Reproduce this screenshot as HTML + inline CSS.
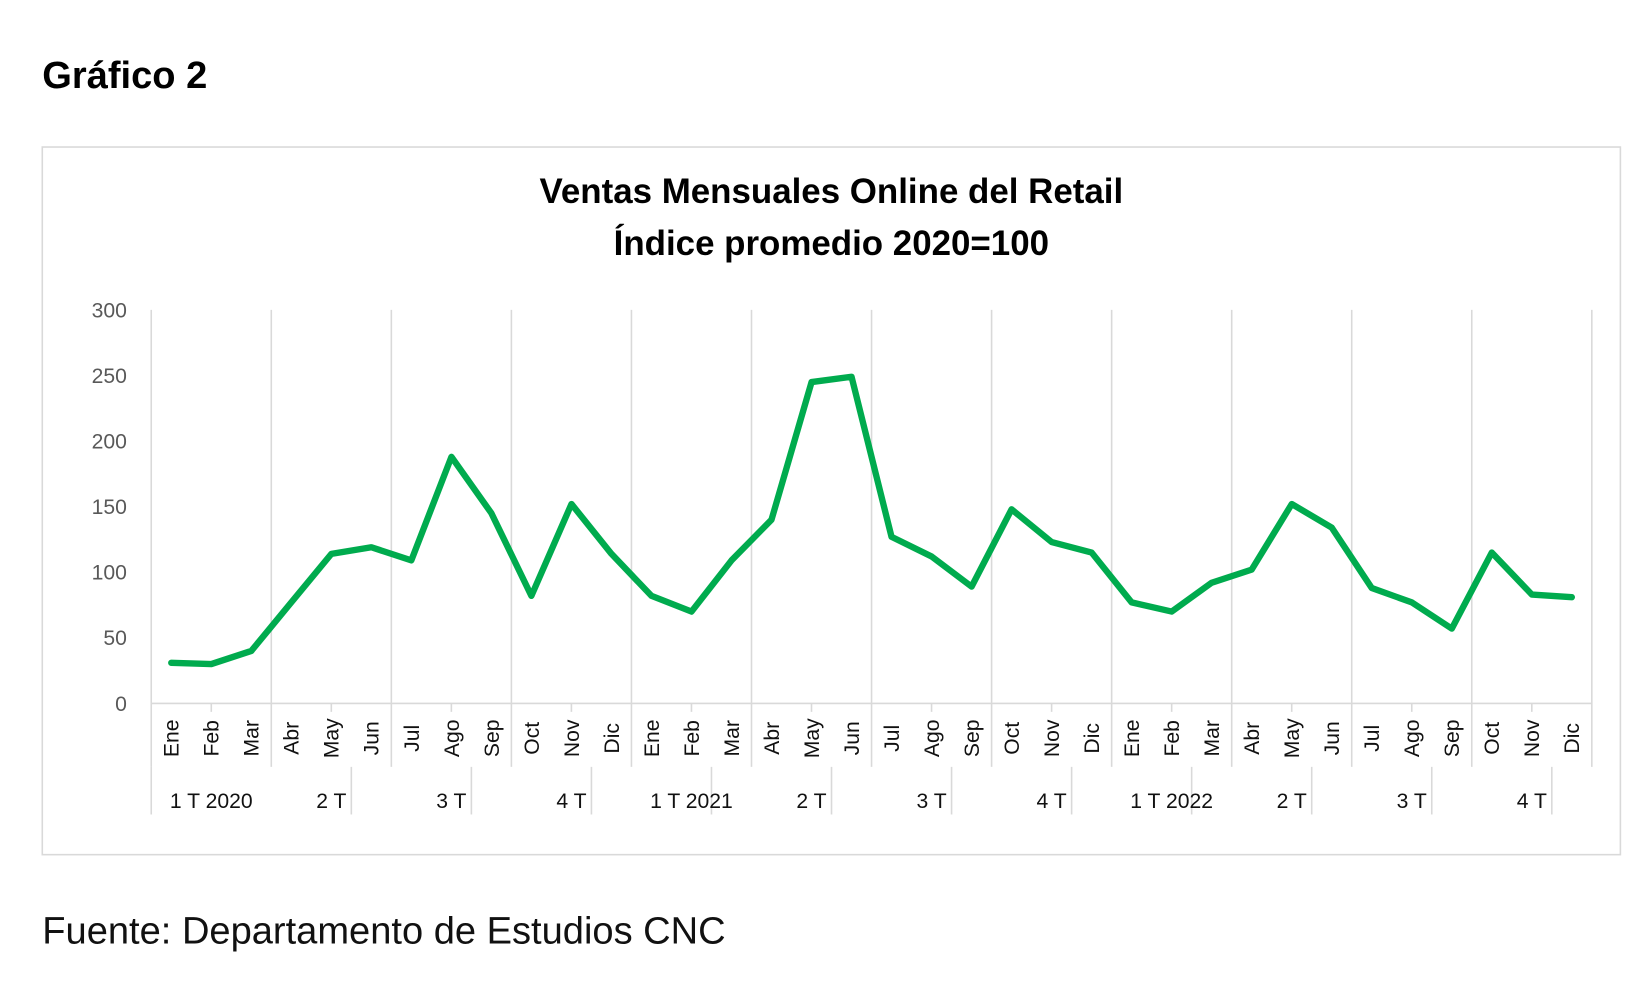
<!DOCTYPE html>
<html><head><meta charset="utf-8"><style>
html,body{margin:0;padding:0;background:#fff;}
svg{display:block;font-family:"Liberation Sans",Calibri,sans-serif;}
</style></head><body>
<svg width="1650" height="989" viewBox="0 0 1560 935" preserveAspectRatio="none" id="fig">
<text x="40" y="83" font-size="36" font-weight="bold" fill="#000">Gráfico 2</text>
<rect x="40" y="139" width="1492" height="669" fill="#fff" stroke="#d9d9d9" stroke-width="1.5"/>
<text x="786" y="192" font-size="33" font-weight="bold" text-anchor="middle">Ventas Mensuales Online del Retail</text>
<text x="786" y="241" font-size="33" font-weight="bold" text-anchor="middle">Índice promedio 2020=100</text>
<g id="plot"></g>
<text x="40" y="892" font-size="36" fill="#111">Fuente: Departamento de Estudios CNC</text>
</svg>
<script>
const months = ["Ene","Feb","Mar","Abr","May","Jun","Jul","Ago","Sep","Oct","Nov","Dic","Ene","Feb","Mar","Abr","May","Jun","Jul","Ago","Sep","Oct","Nov","Dic","Ene","Feb","Mar","Abr","May","Jun","Jul","Ago","Sep","Oct","Nov","Dic"];
const values = [31,30,40,77,114,119,109,188,145,82,152,114,82,70,109,140,245,249,127,112,89,148,123,115,77,70,92,102,152,134,88,77,57,115,83,81];
const quarterLabels = ["1 T 2020","2 T","3 T","4 T","1 T 2021","2 T","3 T","4 T","1 T 2022","2 T","3 T","4 T"];
const yTicks = [0,50,100,150,200,250,300];

const NS="http://www.w3.org/2000/svg";
const g=document.getElementById('plot');
const X0=143,X1=1505,Y0=665,Y1=293,YMAX=300;
const bw=(X1-X0)/months.length;
const xc=i=>X0+(i+0.5)*bw;
const xb=i=>X0+i*bw;
const y=v=>Y0-(v/YMAX)*(Y0-Y1);
function mk(tag,attrs,parent){const e=document.createElementNS(NS,tag);for(const k in attrs)e.setAttribute(k,attrs[k]);(parent||g).appendChild(e);return e;}

// quarter gridlines
for(let q=0;q<=months.length/3;q++){
  const l=mk('line',{x1:xb(q*3),x2:xb(q*3),y1:Y1,y2:725,stroke:'#d9d9d9','stroke-width':1.5});
  
  
}
// x axis line
const ax=mk('line',{x1:X0,x2:X1,y1:Y0,y2:Y0,stroke:'#d9d9d9','stroke-width':1.5});


// y ticks
yTicks.forEach(v=>{
  const t=mk('text',{x:120,y:y(v)+7,'font-size':20,fill:'#595959','text-anchor':'end'});
  t.textContent=v;
  
  
});
// month labels and ticks
months.forEach((m,i)=>{
  if(i%3===1){
    const tk=mk('line',{x1:xc(i),x2:xc(i),y1:Y0,y2:Y0+8,stroke:'#d9d9d9','stroke-width':1.5});
    
    
  }
  const t=mk('text',{x:0,y:0,'font-size':20,fill:'#111','text-anchor':'middle',transform:`translate(${xc(i)+7},${698}) rotate(-90)`});
  t.textContent=m;
  
  
});
// quarter labels + separators
const s0=mk('line',{x1:X0,x2:X0,y1:725,y2:770,stroke:'#d9d9d9','stroke-width':1.5});


quarterLabels.forEach((q,k)=>{
  const t=mk('text',{x:xc(k*3+1),y:764,'font-size':20,fill:'#111','text-anchor':'middle'});
  t.textContent=q;
  
  
  if(k<quarterLabels.length-1||true){
    const sx=xb(k*3+5);
    if(sx<=X1){
      const s=mk('line',{x1:sx,x2:sx,y1:725,y2:770,stroke:'#d9d9d9','stroke-width':1.5});
      
      
    }
  }
});
// series line
const pts=values.map((v,i)=>xc(i).toFixed(1)+','+y(v).toFixed(1)).join(' ');
const pl=mk('polyline',{points:pts,fill:'none',stroke:'#00ab4e','stroke-width':6,'stroke-linejoin':'round','stroke-linecap':'round'});


</script>
</body></html>
